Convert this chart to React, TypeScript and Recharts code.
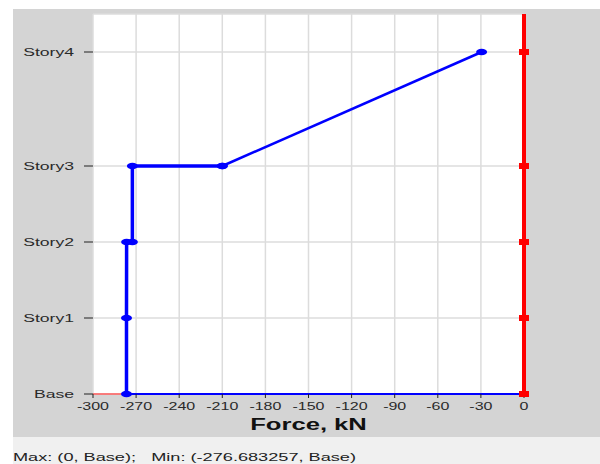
import React from 'react';
import { LineChart, Line, XAxis, YAxis, CartesianGrid } from 'recharts';

// ---- data ----
const storyNames = ['Base', 'Story1', 'Story2', 'Story3', 'Story4'];
const storyElevations = [0, 3, 6, 9, 13.5];
const topElevation = 15;
const forceTicks = [-300, -270, -240, -210, -180, -150, -120, -90, -60, -30, 0];

// blue series (story shear), lower part
const lowerForce = [-276.683257, -276.683257, -276.6, -272.6, -272.6, -210];
const lowerElev = [0, 3, 6, 6, 9, 9];
// blue series, upper part
const upperForce = [-210, -29.5];
const upperElev = [9, 13.5];
// blue series along base
const baseForce = [0, -276.683257];
const baseElev = [0, 0];
// red series (max envelope)
const redForce = [0, 0, 0, 0, 0, 0];
const redElev = [0, 3, 6, 9, 13.5, 15];
const redMarker = [true, true, true, true, true, false];
// red thin base line
const redBaseForce = [-300, 0];
const redBaseElev = [0, 0];

const maxText = 'Max: (0, Base);';
const minText = 'Min: (-276.683257, Base)';
const xTitle = 'Force, kN';

const zip = (xs: number[], ys: number[], flags?: boolean[]) =>
  xs.map((x, i) => ({ x, y: ys[i], marker: flags ? flags[i] : true }));

const lowerData = zip(lowerForce, lowerElev);
const upperData = zip(upperForce, upperElev);
const baseData = zip(baseForce, baseElev);
const redData = zip(redForce, redElev, redMarker);
const redBaseData = zip(redBaseForce, redBaseElev);

const FONT = '"Liberation Sans", Arial, sans-serif';
const SX = 1.6;

const storyLabel = (v: number) => {
  const i = storyElevations.indexOf(v);
  return i >= 0 ? storyNames[i] : '';
};

const YTick = (props: any) => {
  const { x, y, payload } = props;
  return (
    <g transform={`translate(${x},${y}) scale(${SX},1)`}>
      <text x={0} y={0} dy="0.36em" textAnchor="end" fontSize={11} fill="#2a2a2a" fontFamily={FONT}>
        {storyLabel(payload.value)}
      </text>
    </g>
  );
};

const XTick = (props: any) => {
  const { x, y, payload } = props;
  return (
    <g transform={`translate(${x},${y}) scale(${SX},1)`}>
      <text x={0} y={0} dy="0.71em" textAnchor="middle" fontSize={10} fill="#2a2a2a" fontFamily={FONT}>
        {payload.value}
      </text>
    </g>
  );
};

const AxisTitle = (props: any) => {
  const vb = props.viewBox || { x: 0, y: 0, width: 0, height: 0 };
  const cx = vb.x + vb.width / 2;
  const cy = vb.y + 30;
  return (
    <g transform={`translate(${cx},${cy}) scale(${SX},1)`}>
      <text x={0} y={0} dy="0.36em" textAnchor="middle" fontSize={16} fontWeight="bold" fill="#111" fontFamily={FONT}>
        {xTitle}
      </text>
    </g>
  );
};

const BlueDot = (props: any) => {
  const { cx, cy, index } = props;
  if (cx == null || cy == null) return <g key={`b${index}`} />;
  return <ellipse key={`b${index}`} cx={cx} cy={cy} rx={5.5} ry={3.3} fill="#0000ff" />;
};

const RedDot = (props: any) => {
  const { cx, cy, index, payload } = props;
  if (cx == null || cy == null || !payload?.marker) return <g key={`r${index}`} />;
  return <rect key={`r${index}`} x={cx - 5} y={cy - 3} width={10} height={6} fill="#ff0000" />;
};

export default function App() {
  return (
    <div style={{ position: 'absolute', left: 0, top: 0, width: 600, height: 464, background: '#fff' }}>
      <div style={{ position: 'absolute', left: 13, top: 9, width: 587, height: 428, background: '#d4d4d4' }}>
        <LineChart
          width={587}
          height={428}
          margin={{ top: 5, right: 76, bottom: 0, left: 0 }}
          style={{ fontFamily: FONT }}
        >
          <CartesianGrid fill="#ffffff" stroke="#dcdcdc" strokeWidth={1.5} />
          <XAxis
            type="number"
            dataKey="x"
            domain={[-300, 0]}
            ticks={forceTicks}
            height={43}
            axisLine={false}
            tickLine={{ stroke: '#222' }}
            tickSize={4}
            tickMargin={5}
            tick={<XTick />}
            interval={0}
            label={<AxisTitle />}
          />
          <YAxis
            type="number"
            dataKey="y"
            domain={[0, topElevation]}
            ticks={storyElevations}
            width={80}
            axisLine={false}
            tickLine={{ stroke: '#222' }}
            tickSize={9}
            tickMargin={10}
            tick={<YTick />}
            interval={0}
          />
          <Line data={redBaseData} dataKey="y" stroke="#ff5a5a" strokeWidth={1.5} dot={false} isAnimationActive={false} />
          <Line data={baseData} dataKey="y" stroke="#0000ff" strokeWidth={2} dot={false} isAnimationActive={false} />
          <Line data={redData} dataKey="y" stroke="#ff0000" strokeWidth={4} dot={<RedDot />} activeDot={false} isAnimationActive={false} />
          <Line data={upperData} dataKey="y" stroke="#0000ff" strokeWidth={2.5} dot={<BlueDot />} activeDot={false} isAnimationActive={false} />
          <Line data={lowerData} dataKey="y" stroke="#0000ff" strokeWidth={3.5} dot={<BlueDot />} activeDot={false} isAnimationActive={false} />
        </LineChart>
      </div>
      <div
        style={{
          position: 'absolute',
          left: 13,
          top: 437,
          width: 587,
          height: 27,
          background: '#f0f0f0',
          overflow: 'hidden',
        }}
      >
        <div
          style={{
            position: 'absolute',
            left: 0,
            top: 14,
            fontFamily: FONT,
            fontSize: 11,
            lineHeight: '13px',
            color: '#222',
            whiteSpace: 'pre',
            transform: 'scaleX(1.65)',
            transformOrigin: '0 0',
          }}
        >
          {maxText + '   ' + minText}
        </div>
      </div>
    </div>
  );
}
